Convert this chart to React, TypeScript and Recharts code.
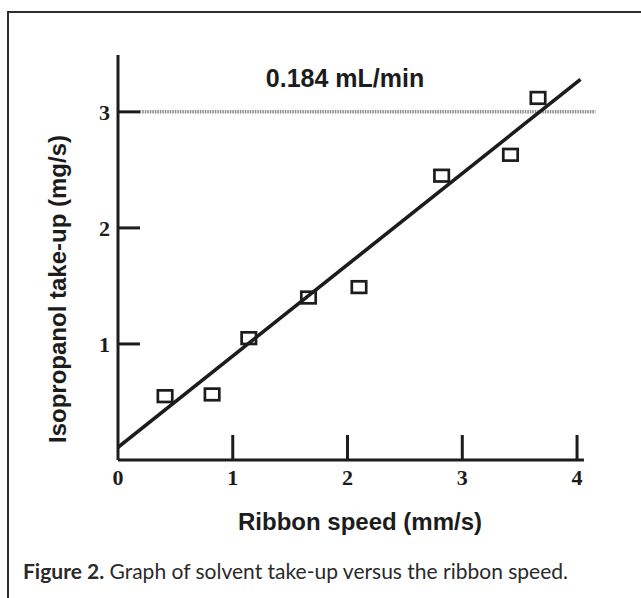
import React from "react";
import { ComposedChart, XAxis, YAxis, Scatter, ReferenceLine } from "recharts";

// Measured points: ribbon speed (mm/s) vs isopropanol take-up (mg/s)
const speeds = [0.41, 0.82, 1.14, 1.66, 2.1, 2.82, 3.42, 3.66];
const takeUp = [0.55, 0.565, 1.05, 1.4, 1.49, 2.45, 2.63, 3.12];

// Linear fit end points
const fitX = [0, 4.03];
const fitY = [0.11, 3.28];

const xTicks = [0, 1, 2, 3, 4];
const yTicks = [1, 2, 3];
const xDomain = [0, 4.2];
const yDomain = [0, 3.49];
const xAxisEnd = 4.06;

const refLevel = 3;
const refStart = 0.19;
const refEnd = 4.16;
const refLabel = "0.184 mL/min";

const xTitle = "Ribbon speed (mm/s)";
const yTitle = "Isopropanol take-up (mg/s)";
const captionBold = "Figure 2.";
const captionText = " Graph of solvent take-up versus the ribbon speed.";

const points = speeds.map((s, i) => ({ x: s, y: takeUp[i] }));
const fitLine = fitX.map((x, i) => ({ x, y: fitY[i] }));

const INK = "#1c1c1c";
const SERIF = "'Liberation Serif', 'DejaVu Serif', serif";
const SANS = "'Liberation Sans', Arial, sans-serif";

const Square = (props: any) => {
  const { cx, cy } = props;
  if (cx == null || cy == null) return <g />;
  return (
    <rect
      x={cx - 7.2}
      y={cy - 5.8}
      width={14.4}
      height={11.6}
      fill="none"
      stroke={INK}
      strokeWidth={2.7}
    />
  );
};

const NoDot = () => <g />;

const XTick = (props: any) => {
  const { x, y, payload } = props;
  return (
    <g>
      {payload.value !== 0 && (
        <line x1={x} x2={x} y1={y} y2={y - 25} stroke={INK} strokeWidth={3} />
      )}
      <text
        x={x}
        y={y + 25}
        textAnchor="middle"
        fontFamily={SERIF}
        fontWeight="bold"
        fontSize={22}
        fill={INK}
      >
        {payload.value}
      </text>
    </g>
  );
};

const YTick = (props: any) => {
  const { x, y, payload } = props;
  return (
    <g>
      <line x1={x} x2={x + 22} y1={y} y2={y} stroke={INK} strokeWidth={3} />
      <text
        x={x - 8}
        y={y + 8}
        textAnchor="end"
        fontFamily={SERIF}
        fontWeight="bold"
        fontSize={22}
        fill={INK}
      >
        {payload.value}
      </text>
    </g>
  );
};

export default function App() {
  return (
    <div
      style={{
        position: "absolute",
        left: 0,
        top: 0,
        width: 641,
        height: 598,
        background: "#fff",
        overflow: "hidden",
      }}
    >
      <div
        style={{
          position: "absolute",
          left: 7,
          top: 11,
          width: 700,
          height: 700,
          borderLeft: "2px solid #2e2e2e",
          borderTop: "2px solid #2e2e2e",
        }}
      />
      <div style={{ position: "absolute", left: 0, top: 0 }}>
        <ComposedChart
          width={641}
          height={598}
          margin={{ top: 55, right: 41, bottom: 98, left: 58 }}
        >
          <XAxis
            type="number"
            dataKey="x"
            domain={xDomain}
            ticks={xTicks}
            interval={0}
            allowDataOverflow
            axisLine={false}
            tickLine={false}
            tickSize={0}
            tickMargin={0}
            height={40}
            tick={<XTick />}
          />
          <YAxis
            type="number"
            dataKey="y"
            domain={yDomain}
            ticks={yTicks}
            interval={0}
            allowDataOverflow
            axisLine={{ stroke: INK, strokeWidth: 3 }}
            tickLine={false}
            tickSize={0}
            tickMargin={0}
            width={60}
            tick={<YTick />}
          />
          <ReferenceLine
            segment={[
              { x: refStart, y: refLevel },
              { x: refEnd, y: refLevel },
            ]}
            stroke="#8c8c8c"
            strokeWidth={3.5}
            strokeDasharray="1.5 1"
            ifOverflow="visible"
          />
          <ReferenceLine
            segment={[
              { x: 0, y: 0 },
              { x: xAxisEnd, y: 0 },
            ]}
            stroke={INK}
            strokeWidth={3}
            ifOverflow="visible"
          />
          <Scatter
            data={fitLine}
            line={{ stroke: INK, strokeWidth: 3.6 }}
            shape={<NoDot />}
            isAnimationActive={false}
          />
          <Scatter
            data={points}
            shape={<Square />}
            isAnimationActive={false}
          />
        </ComposedChart>
      </div>
      <div
        style={{
          position: "absolute",
          left: 345,
          top: 78,
          transform: "translate(-50%, -50%)",
          whiteSpace: "nowrap",
          fontFamily: SANS,
          fontWeight: "bold",
          fontSize: 25,
          color: INK,
        }}
      >
        {refLabel}
      </div>
      <div
        style={{
          position: "absolute",
          left: 360,
          top: 522,
          transform: "translate(-50%, -50%)",
          whiteSpace: "nowrap",
          fontFamily: SANS,
          fontWeight: "bold",
          fontSize: 24,
          color: INK,
        }}
      >
        {xTitle}
      </div>
      <div
        style={{
          position: "absolute",
          left: 57.5,
          top: 288.5,
          transform: "translate(-50%, -50%) rotate(-90deg)",
          whiteSpace: "nowrap",
          fontFamily: SANS,
          fontWeight: "bold",
          fontSize: 24,
          color: INK,
        }}
      >
        {yTitle}
      </div>
      <div
        style={{
          position: "absolute",
          left: 23,
          top: 558,
          whiteSpace: "nowrap",
          fontFamily: "Lato, 'Open Sans', sans-serif",
          fontSize: 21,
          color: "#2a2a2a",
        }}
      >
        <span style={{ fontWeight: "bold" }}>{captionBold}</span>
        {captionText}
      </div>
    </div>
  );
}
